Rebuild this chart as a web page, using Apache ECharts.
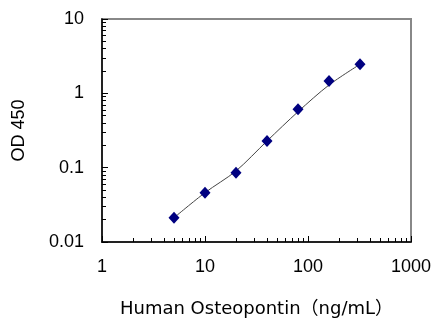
<!DOCTYPE html>
<html>
<head>
<meta charset="utf-8">
<script src="https://cdn.jsdelivr.net/npm/echarts@6/dist/echarts.min.js"></script>
<style>
  html, body { margin: 0; padding: 0; background: #fff; }
  #chart { width: 432px; height: 319px; }
</style>
</head>
<body>
<div id="chart"></div>
<script>
// measured standards
const concentration = [5, 10, 20, 40, 80, 160, 320];
const od450 = [0.0212, 0.0461, 0.0856, 0.2285, 0.61, 1.466, 2.46];
// fitted curve at the same concentrations
const fitOd450 = [0.0212, 0.0461, 0.0903, 0.2285, 0.566, 1.295, 2.46];

const xMinorTicks = [2, 3, 4, 5, 6, 7, 8, 9, 20, 30, 40, 50, 60, 70, 80, 90, 200, 300, 400, 500, 600, 700, 800, 900];
const yMinorTicks = [0.02, 0.03, 0.04, 0.05, 0.06, 0.07, 0.08, 0.09, 0.2, 0.3, 0.4, 0.5, 0.6, 0.7, 0.8, 0.9, 2, 3, 4, 5, 6, 7, 8, 9];

const fontFam = '"Liberation Sans", "Noto Sans CJK JP", sans-serif';

const chart = echarts.init(document.getElementById('chart'));

const option = {
    animation: false,
    grid: {
        left: 102, right: 21, top: 19, bottom: 77,
        outerBoundsMode: 'none',
        show: true, borderColor: '#888', borderWidth: 2
    },
    xAxis: [
        {
            type: 'log', logBase: 10, min: 1, max: 1000,
            name: 'Human Osteopontin（ng/mL）',
            nameLocation: 'middle', nameGap: 58,
            nameTextStyle: { fontSize: 18, color: '#000', fontFamily: '"DejaVu Sans", "Noto Sans CJK JP", sans-serif' },
            axisLine: { lineStyle: { color: '#000', width: 1.5 } },
            axisTick: { inside: true, length: 6, lineStyle: { color: '#000' } },
            axisLabel: { fontSize: 18, color: '#000', margin: 16, fontFamily: fontFam, formatter: v => String(v) },
            splitLine: { show: false }
        },
        {
            type: 'log', logBase: 10, min: 1, max: 1000,
            gridIndex: 0, position: 'bottom',
            axisLine: { show: false },
            axisTick: { inside: true, length: 4, customValues: xMinorTicks, lineStyle: { color: '#000' } },
            axisLabel: { show: false },
            splitLine: { show: false }
        }
    ],
    yAxis: [
        {
            type: 'log', logBase: 10, min: 0.01, max: 10,
            name: 'OD 450',
            nameLocation: 'middle', nameGap: 74,
            nameTextStyle: { fontSize: 18, color: '#000', fontFamily: fontFam },
            axisLine: { lineStyle: { color: '#000', width: 1.5 } },
            axisTick: { inside: true, length: 6, lineStyle: { color: '#000' } },
            axisLabel: {
                fontSize: 18, color: '#000', margin: 18, fontFamily: fontFam,
                formatter: v => String(v)
            },
            splitLine: { show: false }
        },
        {
            type: 'log', logBase: 10, min: 0.01, max: 10,
            gridIndex: 0, position: 'left',
            axisLine: { show: false },
            axisTick: { inside: true, length: 4, customValues: yMinorTicks, lineStyle: { color: '#000' } },
            axisLabel: { show: false },
            splitLine: { show: false }
        }
    ],
    series: [
        {
            type: 'line',
            data: concentration.map((c, i) => [c, fitOd450[i]]),
            smooth: 0.3,
            symbol: 'none',
            lineStyle: { color: '#444', width: 1 },
            z: 1
        },
        {
            type: 'scatter',
            data: concentration.map((c, i) => [c, od450[i]]),
            symbol: 'diamond',
            symbolSize: [11, 12],
            itemStyle: { color: '#000080', opacity: 1 },
            z: 2
        }
    ]
};

chart.setOption(option);
</script>
</body>
</html>
